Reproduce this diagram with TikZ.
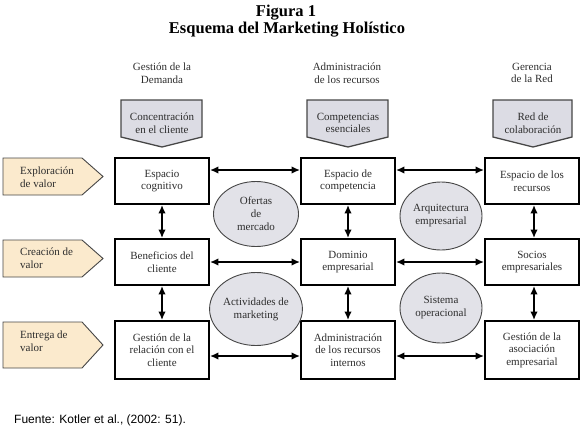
\documentclass[tikz,border=0pt]{standalone}
\usepackage{fontspec}
\setmainfont{Liberation Serif}
\newfontfamily\sansf{Liberation Sans}
\usetikzlibrary{arrows.meta,shapes.geometric}
\definecolor{beige}{RGB}{251,234,205}
\definecolor{lav}{RGB}{220,220,228}
\definecolor{ell}{RGB}{226,226,232}
\definecolor{edge}{RGB}{70,70,70}
\definecolor{hdr}{RGB}{45,45,45}
\tikzset{
  txt/.style={font=\fontsize{11}{12.5}\selectfont, align=center, text=hdr, inner sep=0pt},
  box/.style={draw=black, line width=1.2pt, fill=white, minimum width=94pt, align=center,
    font=\fontsize{11}{12.5}\selectfont, text=hdr, inner sep=1pt},
  oval/.style={ellipse, draw=edge, line width=0.9pt, fill=ell, align=center,
    font=\fontsize{11}{13}\selectfont, text=hdr, inner sep=0pt},
  toparr/.style={draw=edge, line width=1.3pt, fill=lav},
  leftarr/.style={draw=edge, line width=0.9pt, fill=beige},
  dbl/.style={line width=1.7pt, {Latex[length=8.5pt,width=7.5pt]}-{Latex[length=8.5pt,width=7.5pt]}, shorten <=0.3pt, shorten >=0.3pt}
}
\begin{document}
\begin{tikzpicture}[x=1pt,y=-1pt]
\useasboundingbox (0,0) rectangle (580,429);
% title
\node[font=\fontsize{16.5}{18}\selectfont\bfseries, inner sep=0pt] (tit1) at (286,13) {Figura 1};
\node[font=\fontsize{16.5}{18}\selectfont\bfseries, inner sep=0pt] (tit2) at (287,30) {Esquema del Marketing Holístico};
% column headers
\node[txt] (h1) at (162,73) {Gestión de la\\Demanda};
\node[txt] (h2) at (347,73) {Administración\\de los recursos};
\node[txt] (h3) at (532,73) {Gerencia\\de la Red};
% top pentagons
\path[toparr] (121,100) -- (202,100) -- (202,137) -- (162,147) -- (121,137) -- cycle;
\path[toparr] (307,100) -- (388,100) -- (388,137) -- (348,147) -- (307,137) -- cycle;
\path[toparr] (493,100) -- (572,100) -- (572,137) -- (533,147) -- (493,137) -- cycle;
\node[txt] (p1) at (162,123) {Concentración\\en el cliente};
\node[txt] (p2) at (348,123) {Competencias\\esenciales};
\node[txt] (p3) at (533,123) {Red de\\colaboración};
% left pentagons
\path[leftarr] (3,158) -- (82,158) -- (103,176.5) -- (82,195) -- (3,195) -- cycle;
\path[leftarr] (3,240) -- (82,240) -- (103,258.5) -- (82,277) -- (3,277) -- cycle;
\path[leftarr] (3,322) -- (82,322) -- (103,345) -- (82,368) -- (3,368) -- cycle;
\node[txt, align=left, anchor=west] (l1) at (20,177) {Exploración\\de valor};
\node[txt, align=left, anchor=west] (l2) at (20,258) {Creación de\\valor};
\node[txt, align=left, anchor=west] (l3) at (20,341) {Entrega de\\valor};
% boxes
\node[box, minimum height=46pt] (b11) at (162,181) {Espacio\\cognitivo};
\node[box, minimum height=46pt] (b12) at (348,181) {Espacio de\\competencia};
\node[box, minimum height=46pt] (b13) at (532,181) {Espacio de los\\recursos};
\node[box, minimum height=46pt] (b21) at (162,262) {Beneficios del\\cliente};
\node[box, minimum height=46pt] (b22) at (348,262) {Dominio\\empresarial};
\node[box, minimum height=46pt] (b23) at (532,262) {Socios\\empresariales};
\node[box, minimum height=58pt] (b31) at (162,350) {Gestión de la\\relación con el\\cliente};
\node[box, minimum height=58pt] (b32) at (348,350) {Administración\\de los recursos\\internos};
\node[box, minimum height=58pt] (b33) at (532,350) {Gestión de la\\asociación\\empresarial};
% ellipses
\node[oval, minimum width=85pt, minimum height=65pt] (e1) at (256,214) {Ofertas\\de\\mercado};
\node[oval, minimum width=82pt, minimum height=68pt] (e2) at (441,216) {Arquitectura\\empresarial};
\node[oval, minimum width=85pt, minimum height=73pt] (e3) at (256,309) {Actividades de\\marketing};
\node[oval, minimum width=82pt, minimum height=70pt] (e4) at (441,308) {Sistema\\operacional};
% horizontal arrows
\draw[dbl] ([yshift=11pt]b11.east) -- ([yshift=11pt]b12.west);
\draw[dbl] ([yshift=11pt]b12.east) -- ([yshift=11pt]b13.west);
\draw[dbl] (b21.east) -- (b22.west);
\draw[dbl] (b22.east) -- (b23.west);
\draw[dbl] ([yshift=-6pt]b31.east) -- ([yshift=-6pt]b32.west);
\draw[dbl] ([yshift=-6pt]b32.east) -- ([yshift=-6pt]b33.west);
% vertical arrows
\draw[dbl] (b11.south) -- (b21.north);
\draw[dbl] (b21.south) -- (b31.north);
\draw[dbl] (b12.south) -- (b22.north);
\draw[dbl] (b22.south) -- (b32.north);
\draw[dbl] ([xshift=2pt]b13.south) -- ([xshift=2pt]b23.north);
\draw[dbl] ([xshift=2pt]b23.south) -- ([xshift=2pt]b33.north);
% source
\node[font=\sansf\fontsize{12}{14}\selectfont, anchor=west, inner sep=0pt] (src) at (14,420) {Fuente: Kotler et al., (2002: 51).};
\end{tikzpicture}
\end{document}
